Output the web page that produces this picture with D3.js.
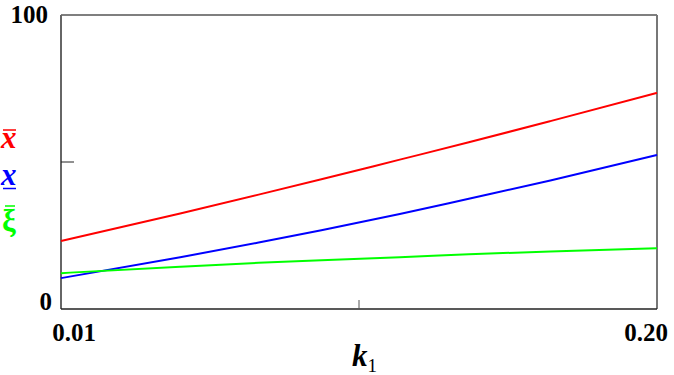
<!DOCTYPE html>
<html><head><meta charset="utf-8">
<script src="https://cdn.jsdelivr.net/npm/d3@7"></script>
<style>body{margin:0;background:#fff}svg{display:block}</style>
</head><body><svg id="c" width="674" height="375"></svg>
<script>
const k1 = [0.01, 0.048, 0.073, 0.093, 0.118, 0.140, 0.166, 0.20];
const xBar = [23.1, 32.5, 38.9, 44.1, 50.8, 56.7, 63.9, 73.5];
const xUnder = [10.5, 17.6, 22.6, 26.8, 32.3, 37.5, 43.7, 52.4];
const xiBar = [12.2, 14.4, 15.7, 16.6, 17.6, 18.6, 19.6, 20.7];
const xTickLabels = ["0.01", "0.20"];
const yTickLabels = ["0", "100"];

const FONT = "Liberation Serif";
const svg = d3.select("#c");
const L = 61, R = 657, T = 15, B = 309;
const x = d3.scaleLinear().domain([0.01, 0.20]).range([L, R]);
const y = d3.scaleLinear().domain([0, 100]).range([B, T]);

// frame
svg.append("line").attr("x1", L).attr("x2", R).attr("y1", T).attr("y2", T).attr("stroke", "#555").attr("stroke-width", 1.5);
svg.append("line").attr("x1", R).attr("x2", R).attr("y1", T).attr("y2", B).attr("stroke", "#777").attr("stroke-width", 2);
svg.append("line").attr("x1", L).attr("x2", L).attr("y1", T).attr("y2", B).attr("stroke", "#666").attr("stroke-width", 2);
svg.append("line").attr("x1", L).attr("x2", R).attr("y1", B).attr("y2", B).attr("stroke", "#222").attr("stroke-width", 1.5);
// ticks
svg.append("line").attr("x1", L).attr("x2", L + 13).attr("y1", y(50)).attr("y2", y(50)).attr("stroke", "#222").attr("stroke-width", 1);
svg.append("line").attr("x1", x(0.105)).attr("x2", x(0.105)).attr("y1", B).attr("y2", B - 9).attr("stroke", "#555").attr("stroke-width", 1);

// tick labels
const lab = (tx, ty, anchor, s) => svg.append("text").attr("x", tx).attr("y", ty).attr("text-anchor", anchor)
  .attr("font-family", FONT).attr("font-weight", "bold").attr("font-size", 25).text(s);
lab(48, y(100) + 8, "end", yTickLabels[1]);
lab(52, y(0) + 1, "end", yTickLabels[0]);
lab(x(0.01) + 13, 341, "middle", xTickLabels[0]);
lab(x(0.20) - 11, 341, "middle", xTickLabels[1]);

// axis title k1
const kt = svg.append("text").attr("x", 352).attr("y", 366).attr("font-family", FONT)
  .attr("font-weight", "bold").attr("font-style", "italic").attr("font-size", 31);
kt.append("tspan").text("k");
kt.append("tspan").attr("font-size", 19).attr("font-style", "normal").attr("font-weight", "normal").attr("dy", 6).text("1");

// lines
const series = [
  {v: xBar, c: "#ff0000"},
  {v: xUnder, c: "#0000ff"},
  {v: xiBar, c: "#00ff00"}
];
const line = d3.line().x((d, i) => x(k1[i])).y(d => y(d)).curve(d3.curveMonotoneX);
series.forEach(s => {
  svg.append("path").attr("d", line(s.v)).attr("fill", "none").attr("stroke", s.c).attr("stroke-width", 2);
});

// legend labels
svg.append("text").attr("x", 1).attr("y", 148).attr("font-family", FONT).attr("font-weight", "bold")
  .attr("font-style", "italic").attr("font-size", 31).attr("fill", "#ff0000").text("x");
svg.append("line").attr("x1", 3).attr("x2", 16).attr("y1", 130).attr("y2", 130).attr("stroke", "#ff0000").attr("stroke-width", 1.5);
svg.append("text").attr("x", 1).attr("y", 185).attr("font-family", FONT).attr("font-weight", "bold")
  .attr("font-style", "italic").attr("font-size", 31).attr("fill", "#0000ff").text("x");
svg.append("line").attr("x1", 3).attr("x2", 16).attr("y1", 188.5).attr("y2", 188.5).attr("stroke", "#0000ff").attr("stroke-width", 1.5);
svg.append("text").attr("x", 2).attr("y", 231).attr("font-family", FONT).attr("font-weight", "bold")
  .attr("font-size", 31).attr("fill", "#00ff00").text("ξ");
svg.append("line").attr("x1", 5).attr("x2", 15).attr("y1", 206).attr("y2", 206).attr("stroke", "#00ff00").attr("stroke-width", 1.5);
</script></body></html>
